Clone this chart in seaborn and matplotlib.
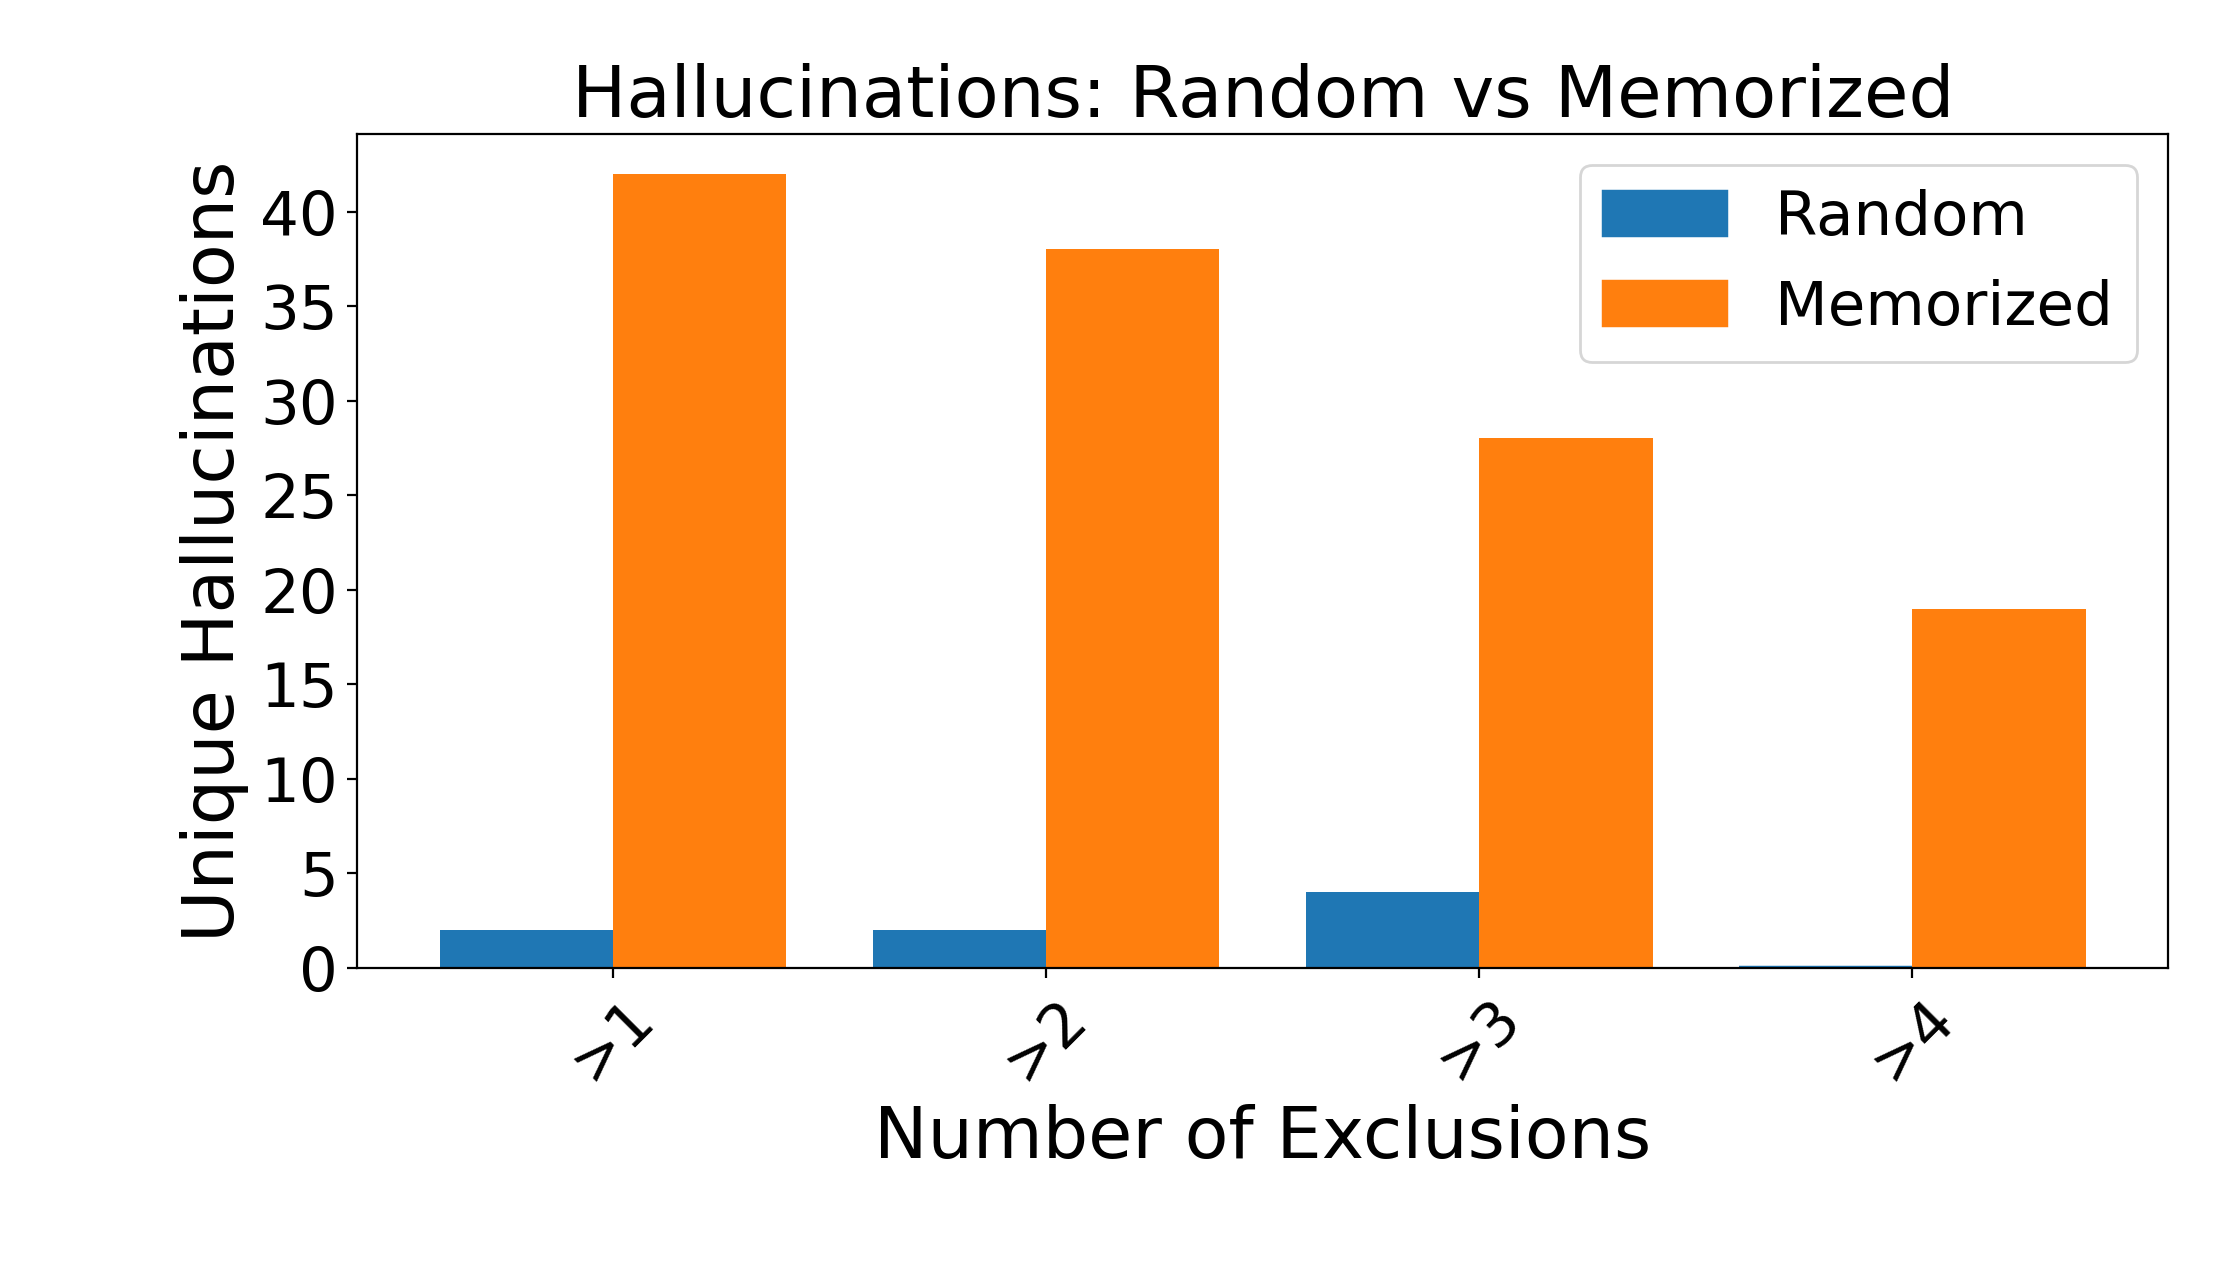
import matplotlib
matplotlib.use("Agg")
import matplotlib.pyplot as plt
from matplotlib.ticker import MultipleLocator
import seaborn as sns
import pandas as pd

categories = [">1", ">2", ">3", ">4"]
random_vals = [2, 2, 4, 0]
memorized_vals = [42, 38, 28, 19]
series_names = ["Random", "Memorized"]
colors = ["#1f77b4", "#ff7f0e"]

df = pd.DataFrame({
    "Exclusions": categories * 2,
    "Count": random_vals + memorized_vals,
    "Type": [series_names[0]] * len(categories) + [series_names[1]] * len(categories),
})

plt.rcParams["font.family"] = ["DejaVu Sans"]
plt.rcParams["font.size"] = 22

fig, ax = plt.subplots(figsize=(11.1, 6.4), dpi=200)
fig.subplots_adjust(left=0.161, right=0.9766, top=0.8953, bottom=0.2438)

sns.barplot(data=df, x="Exclusions", y="Count", hue="Type", order=categories,
            hue_order=series_names, palette=colors, ax=ax, width=0.8,
            saturation=1, errorbar=None)

for p in ax.patches:
    p.set_edgecolor(p.get_facecolor())
    p.set_linewidth(1.6 if p.get_height() == 0 else 0.0)

ax.set_xlim(-0.59, len(categories) - 1 + 0.59)
ax.set_ylim(0, max(memorized_vals) * 1.05)
ax.yaxis.set_major_locator(MultipleLocator(5))
ax.set_title("Hallucinations: Random vs Memorized", fontsize=26)
ax.set_xlabel("Number of Exclusions", fontsize=25.8)
ax.set_ylabel("Unique Hallucinations", fontsize=25.8)
ax.tick_params(axis="x", labelrotation=45)
for s in ax.spines.values():
    s.set_visible(True)
    s.set_color("black")
ax.legend(loc="upper right", title=None)

fig.savefig("out.png", dpi=200)
